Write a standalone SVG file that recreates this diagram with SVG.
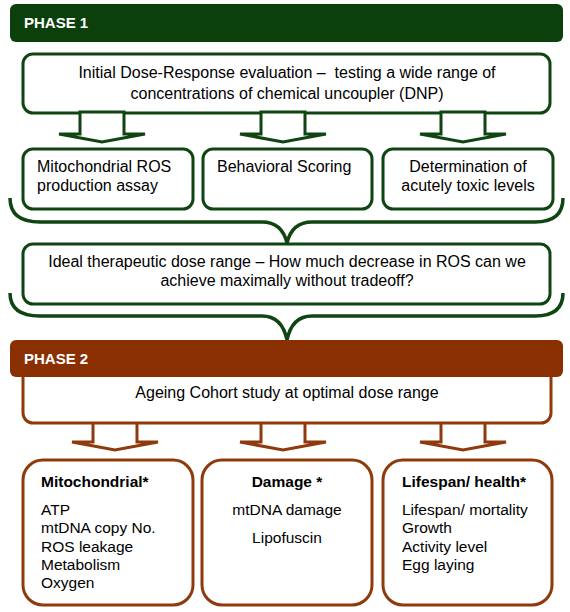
<svg xmlns="http://www.w3.org/2000/svg" width="570" height="612" viewBox="0 0 570 612">
<style>
text{font-family:"Liberation Sans",Arial,sans-serif;font-size:15.5px;fill:#000}
.t{font-size:16px}
.hd{font-weight:bold;fill:#fff;font-size:15px}
.b{font-weight:bold}
.c{text-anchor:middle}
.g{fill:#fff;stroke:#0f4512;stroke-width:3}
.r{fill:#fff;stroke:#8f3a0c;stroke-width:3}
.brace{fill:none;stroke:#0f4512;stroke-width:3.5}
</style>
<rect width="570" height="612" fill="#fff"/>
<g id="phase1">
<rect x="10" y="4" width="553" height="38" rx="6" fill="#0b3f0c"/>
<text class="hd" x="24" y="28">PHASE 1</text>
</g>
<g id="initial">
<rect class="g" x="23" y="54" width="527" height="59" rx="10"/>
<text class="c t" x="287" y="78">Initial Dose-Response evaluation – &#160;testing a wide range of</text>
<text class="c t" x="287" y="99">concentrations of chemical uncoupler (DNP)</text>
</g>
<g id="connectors">
<polygon class="g" points="80,112 124,112 124,134 145,134 102,142 59,134 80,134"/>
<polygon class="g" points="261,112 305,112 305,134 326,134 283,142 240,134 261,134"/>
<polygon class="g" points="441,112 485,112 485,134 506,134 463,142 420,134 441,134"/>
<path class="brace" d="M10,198 Q10,222 40,222 L262,222 Q282,222 287,243 Q292,222 312,222 L535,222 Q563,222 563,198"/>
<path class="brace" d="M10,293 Q10,316 40,316 L262,316 Q282,316 287,340 Q292,316 312,316 L535,316 Q563,316 563,293"/>
<polygon class="r" points="93,422 137,422 137,442 158,442 115,450 72,442 93,442"/>
<polygon class="r" points="261,422 305,422 305,442 326,442 283,450 240,442 261,442"/>
<polygon class="r" points="441,422 485,422 485,442 506,442 463,450 420,442 441,442"/>
</g>
<g id="ros">
<rect class="g" x="23" y="149" width="170" height="60" rx="10"/>
<text class="t" x="37" y="172">Mitochondrial ROS</text>
<text class="t" x="37" y="191">production assay</text>
</g>
<g id="behavioral">
<rect class="g" x="203" y="149" width="169" height="60" rx="10"/>
<text class="t" x="217" y="172">Behavioral Scoring</text>
</g>
<g id="toxic">
<rect class="g" x="383" y="149" width="170" height="60" rx="10"/>
<text class="c t" x="468" y="172">Determination of</text>
<text class="c t" x="468" y="191">acutely toxic levels</text>
</g>
<g id="ideal">
<rect class="g" x="23" y="244" width="527" height="60" rx="10"/>
<text class="c t" x="287" y="267">Ideal therapeutic dose range – How much decrease in ROS can we</text>
<text class="c t" x="287" y="286">achieve maximally without tradeoff?</text>
</g>
<g id="ageing">
<rect class="r" x="23" y="360" width="528" height="63" rx="10"/>
<text class="c t" x="287" y="398">Ageing Cohort study at optimal dose range</text>
</g>
<g id="phase2">
<rect x="10" y="340" width="553" height="37" rx="6" fill="#8a2f02"/>
<text class="hd" x="24" y="364">PHASE 2</text>
</g>
<g id="mito">
<rect class="r" x="23" y="460" width="170" height="145" rx="20"/>
<text class="b" x="41" y="487">Mitochondrial*</text>
<text x="41" y="515">ATP</text>
<text x="41" y="533">mtDNA copy No.</text>
<text x="41" y="552">ROS leakage</text>
<text x="41" y="570">Metabolism</text>
<text x="41" y="588">Oxygen</text>
</g>
<g id="damage">
<rect class="r" x="202" y="460" width="170" height="145" rx="20"/>
<text class="b c" x="287" y="487">Damage *</text>
<text class="c" x="287" y="515">mtDNA damage</text>
<text class="c" x="287" y="543">Lipofuscin</text>
</g>
<g id="lifespan">
<rect class="r" x="383" y="460" width="169" height="145" rx="20"/>
<text class="b" x="402" y="487">Lifespan/ health*</text>
<text x="402" y="515">Lifespan/ mortality</text>
<text x="402" y="533">Growth</text>
<text x="402" y="552">Activity level</text>
<text x="402" y="570">Egg laying</text>
</g>
</svg>
